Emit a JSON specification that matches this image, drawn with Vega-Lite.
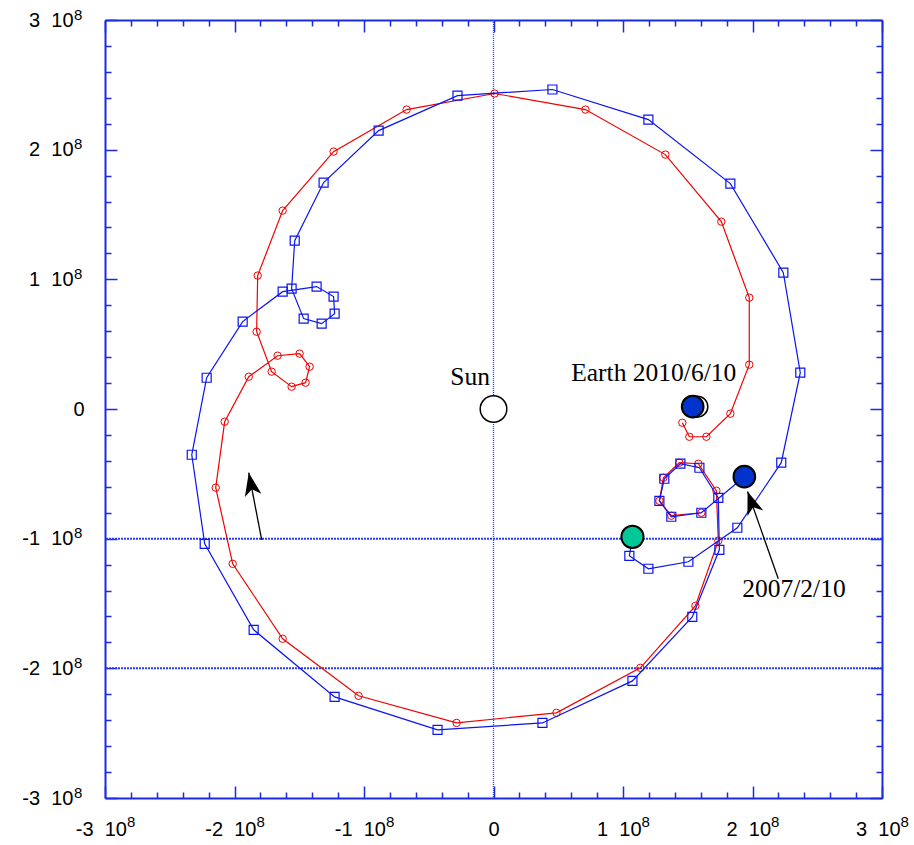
{
  "$schema": "https://vega.github.io/schema/vega-lite/v6.json",
  "width": 777,
  "height": 778,
  "autosize": {"type": "none"},
  "padding": {"left": 105, "top": 20, "right": 32, "bottom": 47},
  "background": "white",
  "config": {"view": {"stroke": null}},
  "resolve": {"axis": {"x": "independent", "y": "independent"}},
  "datasets": {
    "red": [
      {"i": 1, "x": 1.605e8, "y": -0.800e8},
      {"i": 2, "x": 1.373e8, "y": -0.823e8},
      {"i": 3, "x": 1.281e8, "y": -0.708e8},
      {"i": 4, "x": 1.312e8, "y": -0.530e8},
      {"i": 5, "x": 1.435e8, "y": -0.414e8},
      {"i": 6, "x": 1.582e8, "y": -0.422e8},
      {"i": 7, "x": 1.721e8, "y": -0.630e8},
      {"i": 8, "x": 1.736e8, "y": -1.016e8},
      {"i": 9, "x": 1.559e8, "y": -1.518e8},
      {"i": 10, "x": 1.134e8, "y": -1.996e8},
      {"i": 11, "x": 0.486e8, "y": -2.343e8},
      {"i": 12, "x": -0.285e8, "y": -2.421e8},
      {"i": 13, "x": -1.042e8, "y": -2.212e8},
      {"i": 14, "x": -1.628e8, "y": -1.772e8},
      {"i": 15, "x": -2.014e8, "y": -1.194e8},
      {"i": 16, "x": -2.145e8, "y": -0.607e8},
      {"i": 17, "x": -2.076e8, "y": -0.098e8},
      {"i": 18, "x": -1.890e8, "y": 0.249e8},
      {"i": 19, "x": -1.667e8, "y": 0.411e8},
      {"i": 20, "x": -1.497e8, "y": 0.427e8},
      {"i": 21, "x": -1.420e8, "y": 0.326e8},
      {"i": 22, "x": -1.451e8, "y": 0.203e8},
      {"i": 23, "x": -1.559e8, "y": 0.172e8},
      {"i": 24, "x": -1.713e8, "y": 0.288e8},
      {"i": 25, "x": -1.829e8, "y": 0.596e8},
      {"i": 26, "x": -1.821e8, "y": 1.029e8},
      {"i": 27, "x": -1.628e8, "y": 1.530e8},
      {"i": 28, "x": -1.235e8, "y": 1.985e8},
      {"i": 29, "x": -0.671e8, "y": 2.309e8},
      {"i": 30, "x": 0.008e8, "y": 2.433e8},
      {"i": 31, "x": 0.710e8, "y": 2.309e8},
      {"i": 32, "x": 1.327e8, "y": 1.962e8},
      {"i": 33, "x": 1.759e8, "y": 1.445e8},
      {"i": 34, "x": 1.975e8, "y": 0.859e8},
      {"i": 35, "x": 1.975e8, "y": 0.342e8},
      {"i": 36, "x": 1.829e8, "y": -0.036e8},
      {"i": 37, "x": 1.644e8, "y": -0.214e8},
      {"i": 38, "x": 1.512e8, "y": -0.214e8},
      {"i": 39, "x": 1.458e8, "y": -0.106e8}
    ],
    "blue": [
      {"i": 0, "x": 1.937e8, "y": -0.522e8},
      {"i": 1, "x": 1.605e8, "y": -0.800e8},
      {"i": 2, "x": 1.373e8, "y": -0.831e8},
      {"i": 3, "x": 1.281e8, "y": -0.708e8},
      {"i": 4, "x": 1.319e8, "y": -0.538e8},
      {"i": 5, "x": 1.443e8, "y": -0.422e8},
      {"i": 6, "x": 1.590e8, "y": -0.453e8},
      {"i": 7, "x": 1.736e8, "y": -0.685e8},
      {"i": 8, "x": 1.744e8, "y": -1.086e8},
      {"i": 9, "x": 1.535e8, "y": -1.603e8},
      {"i": 10, "x": 1.073e8, "y": -2.097e8},
      {"i": 11, "x": 0.378e8, "y": -2.421e8},
      {"i": 12, "x": -0.432e8, "y": -2.475e8},
      {"i": 13, "x": -1.227e8, "y": -2.220e8},
      {"i": 14, "x": -1.852e8, "y": -1.703e8},
      {"i": 15, "x": -2.230e8, "y": -1.040e8},
      {"i": 16, "x": -2.330e8, "y": -0.353e8},
      {"i": 17, "x": -2.215e8, "y": 0.241e8},
      {"i": 18, "x": -1.937e8, "y": 0.674e8},
      {"i": 19, "x": -1.628e8, "y": 0.905e8},
      {"i": 20, "x": -1.366e8, "y": 0.944e8},
      {"i": 21, "x": -1.235e8, "y": 0.867e8},
      {"i": 22, "x": -1.227e8, "y": 0.735e8},
      {"i": 23, "x": -1.327e8, "y": 0.658e8},
      {"i": 24, "x": -1.466e8, "y": 0.697e8},
      {"i": 25, "x": -1.559e8, "y": 0.928e8},
      {"i": 26, "x": -1.535e8, "y": 1.298e8},
      {"i": 27, "x": -1.312e8, "y": 1.746e8},
      {"i": 28, "x": -0.887e8, "y": 2.147e8},
      {"i": 29, "x": -0.278e8, "y": 2.417e8},
      {"i": 30, "x": 0.455e8, "y": 2.464e8},
      {"i": 31, "x": 1.196e8, "y": 2.232e8},
      {"i": 32, "x": 1.829e8, "y": 1.738e8},
      {"i": 33, "x": 2.238e8, "y": 1.052e8},
      {"i": 34, "x": 2.369e8, "y": 0.280e8},
      {"i": 35, "x": 2.222e8, "y": -0.414e8},
      {"i": 36, "x": 1.883e8, "y": -0.916e8},
      {"i": 37, "x": 1.505e8, "y": -1.178e8},
      {"i": 38, "x": 1.196e8, "y": -1.232e8},
      {"i": 39, "x": 1.049e8, "y": -1.132e8},
      {"i": 40, "x": 1.073e8, "y": -0.986e8}
    ],
    "bodies": [
      {"name": "Sun", "x": 0, "y": 0},
      {"name": "Earth (behind)", "x": 1.574e8, "y": 0.018e8},
      {"name": "Earth 2010/6/10", "x": 1.538e8, "y": 0.018e8},
      {"name": "Start 2007/2/10", "x": 1.937e8, "y": -0.522e8},
      {"name": "End", "x": 1.073e8, "y": -0.986e8}
    ],
    "labels": [
      {"text": "Sun", "x": -0.181e8, "y": 0.187e8, "anchor": "center"},
      {"text": "Earth 2010/6/10", "x": 0.600e8, "y": 0.213e8, "anchor": "left"},
      {"text": "2007/2/10", "x": 1.921e8, "y": -1.448e8, "anchor": "left"}
    ],
    "arrows": [
      {"id": "motion", "x": -1.790e8, "y": -1.0085e8, "x2": -1.890e8, "y2": -0.4915e8},
      {"id": "start", "x": 2.199e8, "y": -1.309e8, "x2": 1.962e8, "y2": -0.636e8}
    ],
    "vref": [{"v": 0}],
    "href": [{"v": -1e8}, {"v": -2e8}]
  },
  "layer": [
    {
      "data": {"name": "vref"},
      "mark": {"type": "rule", "stroke": "#2a3cf0", "strokeWidth": 1.3, "strokeDash": [1, 1]},
      "encoding": {
        "x": {"field": "v", "type": "quantitative", "scale": {"domain": [-3e8, 3e8], "nice": false, "zero": false}, "axis": null}
      }
    },
    {
      "data": {"name": "href"},
      "mark": {"type": "rule", "stroke": "#2a3cf0", "strokeWidth": 2, "strokeDash": [2, 1]},
      "encoding": {
        "y": {"field": "v", "type": "quantitative", "scale": {"domain": [-3e8, 3e8], "nice": false, "zero": false}, "axis": null}
      }
    },
    {
      "data": {"name": "red"},
      "mark": {"type": "line", "stroke": "#f00000", "strokeWidth": 1.2},
      "encoding": {
        "x": {"field": "x", "type": "quantitative",
          "axis": {
            "orient": "bottom", "title": null, "grid": false,
            "values": [-300000000,-280000000,-260000000,-240000000,-220000000,-200000000,-180000000,-160000000,-140000000,-120000000,-100000000,-80000000,-60000000,-40000000,-20000000,0,20000000,40000000,60000000,80000000,100000000,120000000,140000000,160000000,180000000,200000000,220000000,240000000,260000000,280000000,300000000],
            "labelExpr": "datum.value % 100000000 != 0 ? '' : (datum.value == 0 ? '0' : (datum.value < 0 ? '-' : '') + abs(datum.value / 100000000) + '\u00a0\u00a010')",
            "labelFont": "Liberation Sans", "labelFontSize": 20, "labelColor": "#000000",
            "labelFlush": false, "labelOverlap": false, "labelBound": false,
            "labelAlign": "right",
            "labelOffset": {"condition": [{"test": "datum.value < 0", "value": 21.4}, {"test": "datum.value == 0", "value": 5.6}], "value": 18.1},
            "labelPadding": 33.5,
            "domainColor": "#1a2be0", "domainWidth": 2,
            "tickColor": "#1a2be0", "tickWidth": 1.5,
            "tickSize": {"condition": {"test": "datum.value % 100000000 == 0", "value": -12}, "value": -6}
          }
        },
        "y": {"field": "y", "type": "quantitative",
          "axis": {
            "orient": "left", "title": null, "grid": false,
            "values": [-300000000,-280000000,-260000000,-240000000,-220000000,-200000000,-180000000,-160000000,-140000000,-120000000,-100000000,-80000000,-60000000,-40000000,-20000000,0,20000000,40000000,60000000,80000000,100000000,120000000,140000000,160000000,180000000,200000000,220000000,240000000,260000000,280000000,300000000],
            "labelExpr": "datum.value % 100000000 != 0 ? '' : (datum.value == 0 ? '0' : (datum.value < 0 ? '-' : '') + abs(datum.value / 100000000) + '\u00a0\u00a010')",
            "labelFont": "Liberation Sans", "labelFontSize": 20, "labelColor": "#000000",
            "labelFlush": false, "labelOverlap": false, "labelBound": false,
            "labelPadding": {"condition": {"test": "datum.value == 0", "value": 33}, "value": 44},
            "domainColor": "#1a2be0", "domainWidth": 2,
            "tickColor": "#1a2be0", "tickWidth": 1.5,
            "tickSize": {"condition": {"test": "datum.value % 100000000 == 0", "value": -12}, "value": -6}
          }
        },
        "order": {"field": "i", "type": "quantitative"}
      }
    },
    {
      "data": {"name": "red"},
      "mark": {"type": "point", "shape": "circle", "filled": false, "stroke": "#f00000", "strokeWidth": 1, "size": 55, "opacity": 1},
      "encoding": {
        "x": {"field": "x", "type": "quantitative",
          "axis": {
            "orient": "bottom", "title": null, "grid": false, "domain": false, "ticks": false, "tickSize": 0,
            "values": [-300000000, -200000000, -100000000, 100000000, 200000000, 300000000],
            "labelExpr": "'8'",
            "labelFont": "Liberation Sans", "labelFontSize": 15, "labelColor": "#000000",
            "labelFlush": false, "labelOverlap": false, "labelBound": false,
            "labelAlign": "left",
            "labelOffset": {"condition": {"test": "datum.value < 0", "value": 21.4}, "value": 18.1},
            "labelPadding": 16
          }
        },
        "y": {"field": "y", "type": "quantitative",
          "axis": {
            "orient": "left", "title": null, "grid": false, "domain": false, "ticks": false, "tickSize": 0,
            "values": [-300000000, -200000000, -100000000, 100000000, 200000000, 300000000],
            "labelExpr": "'8'",
            "labelFont": "Liberation Sans", "labelFontSize": 15, "labelColor": "#000000",
            "labelFlush": false, "labelOverlap": false, "labelBound": false,
            "labelAlign": "left",
            "labelOffset": -6,
            "labelPadding": 31.5
          }
        }
      }
    },
    {
      "data": {"name": "blue"},
      "mark": {"type": "line", "stroke": "#0a14f0", "strokeWidth": 1.2},
      "encoding": {
        "x": {"field": "x", "type": "quantitative",
          "axis": {
            "orient": "top", "title": null, "grid": false, "labels": false,
            "values": [-300000000,-280000000,-260000000,-240000000,-220000000,-200000000,-180000000,-160000000,-140000000,-120000000,-100000000,-80000000,-60000000,-40000000,-20000000,0,20000000,40000000,60000000,80000000,100000000,120000000,140000000,160000000,180000000,200000000,220000000,240000000,260000000,280000000,300000000],
            "domainColor": "#1a2be0", "domainWidth": 2,
            "tickColor": "#1a2be0", "tickWidth": 1.5,
            "tickSize": {"condition": {"test": "datum.value % 100000000 == 0", "value": -12}, "value": -6}
          }
        },
        "y": {"field": "y", "type": "quantitative",
          "axis": {
            "orient": "right", "title": null, "grid": false, "labels": false,
            "values": [-300000000,-280000000,-260000000,-240000000,-220000000,-200000000,-180000000,-160000000,-140000000,-120000000,-100000000,-80000000,-60000000,-40000000,-20000000,0,20000000,40000000,60000000,80000000,100000000,120000000,140000000,160000000,180000000,200000000,220000000,240000000,260000000,280000000,300000000],
            "domainColor": "#1a2be0", "domainWidth": 2,
            "tickColor": "#1a2be0", "tickWidth": 1.5,
            "tickSize": {"condition": {"test": "datum.value % 100000000 == 0", "value": -12}, "value": -6}
          }
        },
        "order": {"field": "i", "type": "quantitative"}
      }
    },
    {
      "data": {"name": "blue"},
      "transform": [{"filter": "datum.i >= 1 && datum.i <= 39"}],
      "mark": {"type": "point", "shape": "square", "filled": false, "stroke": "#0a14f0", "strokeWidth": 1.2, "size": 81, "opacity": 1},
      "encoding": {
        "x": {"field": "x", "type": "quantitative", "axis": null},
        "y": {"field": "y", "type": "quantitative", "axis": null}
      }
    },
    {
      "data": {"name": "arrows"},
      "mark": {"type": "rule", "stroke": "#000000", "strokeWidth": 1.3},
      "encoding": {
        "x": {"field": "x", "type": "quantitative", "axis": null},
        "y": {"field": "y", "type": "quantitative", "axis": null},
        "x2": {"field": "x2"},
        "y2": {"field": "y2"}
      }
    },
    {
      "data": {"name": "arrows"},
      "transform": [{"filter": "datum.id == 'motion'"}],
      "mark": {"type": "point", "shape": "M0,0 L0.8,2.2 L0,1.6 L-0.8,2.2 Z", "filled": true, "fill": "#000000", "strokeWidth": 0, "size": 440, "opacity": 1, "angle": -11},
      "encoding": {
        "x": {"field": "x2", "type": "quantitative", "axis": null},
        "y": {"field": "y2", "type": "quantitative", "axis": null}
      }
    },
    {
      "data": {"name": "arrows"},
      "transform": [{"filter": "datum.id == 'start'"}],
      "mark": {"type": "point", "shape": "M0,0 L0.8,2.2 L0,1.6 L-0.8,2.2 Z", "filled": true, "fill": "#000000", "strokeWidth": 0, "size": 440, "opacity": 1, "angle": -19.6},
      "encoding": {
        "x": {"field": "x2", "type": "quantitative", "axis": null},
        "y": {"field": "y2", "type": "quantitative", "axis": null}
      }
    },
    {
      "data": {"name": "bodies"},
      "transform": [{"filter": "datum.name == 'Sun'"}],
      "mark": {"type": "point", "shape": "circle", "filled": true, "fill": "#ffffff", "stroke": "#000000", "strokeWidth": 1.5, "size": 707, "opacity": 1},
      "encoding": {
        "x": {"field": "x", "type": "quantitative", "axis": null},
        "y": {"field": "y", "type": "quantitative", "axis": null}
      }
    },
    {
      "data": {"name": "bodies"},
      "transform": [{"filter": "datum.name == 'Earth (behind)'"}],
      "mark": {"type": "point", "shape": "circle", "filled": true, "fill": "#ffffff", "stroke": "#000000", "strokeWidth": 1.5, "size": 440, "opacity": 1},
      "encoding": {
        "x": {"field": "x", "type": "quantitative", "axis": null},
        "y": {"field": "y", "type": "quantitative", "axis": null}
      }
    },
    {
      "data": {"name": "bodies"},
      "transform": [{"filter": "datum.name == 'Earth 2010/6/10' || datum.name == 'Start 2007/2/10'"}],
      "mark": {"type": "point", "shape": "circle", "filled": true, "fill": "#0033cc", "stroke": "#000000", "strokeWidth": 2, "size": 470, "opacity": 1},
      "encoding": {
        "x": {"field": "x", "type": "quantitative", "axis": null},
        "y": {"field": "y", "type": "quantitative", "axis": null}
      }
    },
    {
      "data": {"name": "bodies"},
      "transform": [{"filter": "datum.name == 'End'"}],
      "mark": {"type": "point", "shape": "circle", "filled": true, "fill": "#00c896", "stroke": "#000000", "strokeWidth": 2, "size": 490, "opacity": 1},
      "encoding": {
        "x": {"field": "x", "type": "quantitative", "axis": null},
        "y": {"field": "y", "type": "quantitative", "axis": null}
      }
    },
    {
      "data": {"name": "labels"},
      "transform": [{"filter": "datum.anchor == 'center'"}],
      "mark": {"type": "text", "font": "Liberation Serif", "fontSize": 25.5, "align": "center", "baseline": "alphabetic", "color": "#000000"},
      "encoding": {
        "x": {"field": "x", "type": "quantitative", "axis": null},
        "y": {"field": "y", "type": "quantitative", "axis": null},
        "text": {"field": "text"}
      }
    },
    {
      "data": {"name": "labels"},
      "transform": [{"filter": "datum.anchor == 'left'"}],
      "mark": {"type": "text", "font": "Liberation Serif", "fontSize": 25.5, "align": "left", "baseline": "alphabetic", "color": "#000000"},
      "encoding": {
        "x": {"field": "x", "type": "quantitative", "axis": null},
        "y": {"field": "y", "type": "quantitative", "axis": null},
        "text": {"field": "text"}
      }
    }
  ]
}
